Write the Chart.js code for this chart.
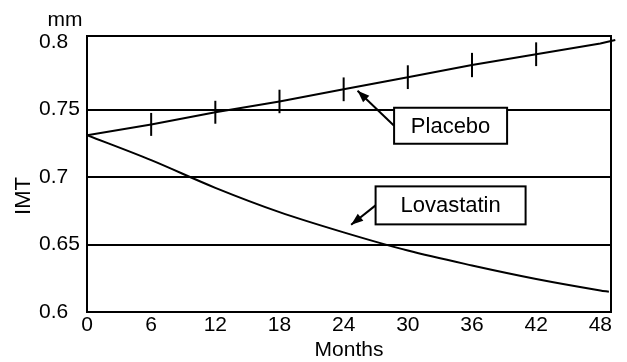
<!DOCTYPE html>
<html>
<head>
<meta charset="utf-8">
<script src="https://cdn.jsdelivr.net/npm/chart.js@4.4.0/dist/chart.umd.min.js"></script>
<style>
  html, body { margin: 0; padding: 0; background: #fff; }
</style>
</head>
<body>
<canvas id="imtChart" width="627" height="362"></canvas>
<script>
const months = [0, 6, 12, 18, 24, 30, 36, 42, 48];
const placeboIMT = [0.731, 0.739, 0.748, 0.756, 0.765, 0.774, 0.783, 0.791, 0.799];
const placeboErr = [null, 0.0085, 0.0085, 0.0087, 0.0088, 0.0088, 0.009, 0.0088, null];
const lovastatinIMT = [0.731, 0.7125, 0.692, 0.674, 0.659, 0.6455, 0.6345, 0.6245, 0.616];
// where the drawn lines stop at the right edge of the frame
const placeboEnd = [49.4, 0.8015];
const lovastatinEnd = [48.8, 0.615];
const xTicks = [0, 6, 12, 18, 24, 30, 36, 42, 48];
const yTicks = [0.6, 0.65, 0.7, 0.75, 0.8];
const gridAt = [0.65, 0.7, 0.75];

const FONT = 'Liberation Sans, Arial, Helvetica, sans-serif';
Chart.defaults.font.family = FONT;
Chart.defaults.color = '#000';

function points(ys, end) {
    const pts = months.map((m, i) => ({ x: m, y: ys[i] }));
    pts.push({ x: end[0], y: end[1] });
    return pts;
}

// callout boxes, placed in data units
const callouts = [
    { text: 'Placebo', month: 34, imt: 0.738, w: 113, h: 36, tipMonth: 25.3, tipIMT: 0.764 },
    { text: 'Lovastatin', month: 34, imt: 0.679, w: 150, h: 38, tipMonth: 24.7, tipIMT: 0.6647 }
];

const framePlugin = {
    id: 'frame',
    beforeDatasetsDraw(chart) {
        const { ctx, chartArea: a } = chart;
        ctx.save();
        ctx.strokeStyle = '#000';
        ctx.lineWidth = 2;
        ctx.strokeRect(a.left, a.top, a.right - a.left, a.bottom - a.top);
        ctx.restore();
    },
    afterDatasetsDraw(chart) {
        const { ctx, scales: { x, y } } = chart;
        ctx.save();
        ctx.strokeStyle = '#000';
        ctx.lineWidth = 2;
        months.forEach((m, i) => {
            const e = placeboErr[i];
            if (e == null) return;
            const px = x.getPixelForValue(m);
            ctx.beginPath();
            ctx.moveTo(px, y.getPixelForValue(placeboIMT[i] - e));
            ctx.lineTo(px, y.getPixelForValue(placeboIMT[i] + e));
            ctx.stroke();
        });
        ctx.restore();
    },
    afterDraw(chart) {
        const { ctx, scales: { x, y } } = chart;
        ctx.save();
        ctx.fillStyle = '#000';
        ctx.strokeStyle = '#000';

        // unit and axis name
        ctx.font = '21px ' + FONT;
        ctx.textAlign = 'center';
        ctx.textBaseline = 'middle';
        ctx.fillText('mm', 65, 20);
        ctx.save();
        ctx.translate(24, 196);
        ctx.rotate(-Math.PI / 2);
        ctx.font = '22px ' + FONT;
        ctx.fillText('IMT', 0, 0);
        ctx.restore();

        callouts.forEach(c => {
            const cx = x.getPixelForValue(c.month);
            const cy = y.getPixelForValue(c.imt);
            const left = cx - c.w / 2, top = cy - c.h / 2;
            const tx = x.getPixelForValue(c.tipMonth);
            const ty = y.getPixelForValue(c.tipIMT);

            // arrow
            ctx.lineWidth = 2;
            ctx.beginPath();
            ctx.moveTo(left, cy);
            ctx.lineTo(tx, ty);
            ctx.stroke();
            const ang = Math.atan2(ty - cy, tx - left);
            const len = 12, half = 4.5;
            ctx.beginPath();
            ctx.moveTo(tx, ty);
            ctx.lineTo(tx - len * Math.cos(ang) + half * Math.sin(ang), ty - len * Math.sin(ang) - half * Math.cos(ang));
            ctx.lineTo(tx - len * Math.cos(ang) - half * Math.sin(ang), ty - len * Math.sin(ang) + half * Math.cos(ang));
            ctx.closePath();
            ctx.fill();

            // box
            ctx.fillStyle = '#fff';
            ctx.fillRect(left, top, c.w, c.h);
            ctx.strokeRect(left, top, c.w, c.h);
            ctx.fillStyle = '#000';
            ctx.font = '22px ' + FONT;
            ctx.fillText(c.text, cx, cy + 1);
        });
        ctx.restore();
    }
};

const ctx = document.getElementById('imtChart').getContext('2d');
const imtChart = new Chart(ctx, {
    type: 'line',
    data: {
        datasets: [{
            label: 'Placebo',
            data: points(placeboIMT, placeboEnd),
            borderColor: '#000',
            borderWidth: 2,
            pointRadius: 0,
            tension: 0,
            clip: { left: 0, top: 4, right: 6, bottom: 0 }
        }, {
            label: 'Lovastatin',
            data: points(lovastatinIMT, lovastatinEnd),
            borderColor: '#000',
            borderWidth: 2,
            pointRadius: 0,
            cubicInterpolationMode: 'monotone'
        }]
    },
    options: {
        responsive: false,
        animation: false,
        devicePixelRatio: 1,
        layout: { padding: { left: 39, top: 36, right: 16, bottom: 0 } },
        plugins: { legend: { display: false }, tooltip: { enabled: false } },
        scales: {
            x: {
                type: 'linear',
                min: 0,
                max: 49,
                afterBuildTicks: axis => { axis.ticks = xTicks.map(v => ({ value: v })); },
                afterFit: axis => { axis.height = 50; },
                grid: { display: false, drawTicks: false },
                border: { display: false },
                ticks: { font: { size: 21 }, padding: 1, maxRotation: 0, autoSkip: false },
                title: { display: true, text: 'Months', font: { size: 21, lineHeight: 1.1 }, padding: 0 }
            },
            y: {
                type: 'linear',
                min: 0.6,
                max: 0.8045,
                afterBuildTicks: axis => { axis.ticks = yTicks.map(v => ({ value: v })); },
                afterFit: axis => { axis.width = 48; },
                grid: {
                    drawTicks: false,
                    lineWidth: 2,
                    color: c => gridAt.includes(c.tick && c.tick.value) ? '#000' : 'rgba(0,0,0,0)'
                },
                border: { display: false },
                ticks: {
                    font: { size: 21 },
                    crossAlign: 'far',
                    padding: 4,
                    callback: v => String(v)
                }
            }
        }
    },
    plugins: [framePlugin]
});
</script>
</body>
</html>
